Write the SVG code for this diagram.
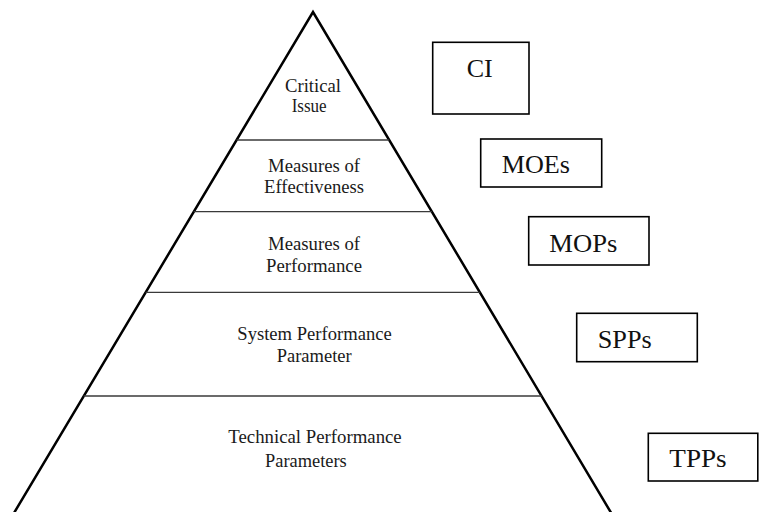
<svg xmlns="http://www.w3.org/2000/svg" width="760" height="512" viewBox="0 0 760 512">
  <style>
    .edge { fill: none; stroke: #000; stroke-width: 2.5; stroke-linejoin: miter; }
    .tier { fill: none; stroke: #3a3a3a; stroke-width: 1.3; }
    .box { fill: #fff; stroke: #000; stroke-width: 1.6; }
    .lbl { font-family: "Liberation Serif", "Times New Roman", serif; font-size: 18.5px; fill: #1a1a1a; }
    .tag { font-family: "Liberation Serif", "Times New Roman", serif; font-size: 26px; fill: #111; }
  </style>

  <rect width="760" height="512" fill="#fff"/>

  <!-- pyramid outline -->
  <g id="pyramid">
    <polyline class="edge" points="12.2,516 313,12 613,516"/>
  </g>

  <!-- tier dividers -->
  <g id="dividers">
    <line class="tier" x1="236.6" y1="140" x2="389.2" y2="140"/>
    <line class="tier" x1="193.7" y1="211.7" x2="431.9" y2="211.7"/>
    <line class="tier" x1="145.6" y1="292.3" x2="479.8" y2="292.3"/>
    <line class="tier" x1="83.7" y1="396" x2="541.6" y2="396"/>
  </g>

  <!-- pyramid tiers -->
  <g id="tier-ci">
    <text class="lbl" x="285" y="92" textLength="56" lengthAdjust="spacingAndGlyphs">Critical</text>
    <text class="lbl" x="291.7" y="111.7" textLength="35" lengthAdjust="spacingAndGlyphs">Issue</text>
  </g>
  <g id="tier-moe">
    <text class="lbl" x="268" y="171.7" textLength="92" lengthAdjust="spacingAndGlyphs">Measures of</text>
    <text class="lbl" x="264" y="193.3" textLength="100" lengthAdjust="spacingAndGlyphs">Effectiveness</text>
  </g>
  <g id="tier-mop">
    <text class="lbl" x="268" y="250" textLength="92" lengthAdjust="spacingAndGlyphs">Measures of</text>
    <text class="lbl" x="266" y="272" textLength="96" lengthAdjust="spacingAndGlyphs">Performance</text>
  </g>
  <g id="tier-spp">
    <text class="lbl" x="237.3" y="340" textLength="154.4" lengthAdjust="spacingAndGlyphs">System Performance</text>
    <text class="lbl" x="276.7" y="361.7" textLength="75" lengthAdjust="spacingAndGlyphs">Parameter</text>
  </g>
  <g id="tier-tpp">
    <text class="lbl" x="228.3" y="443.3" textLength="173.4" lengthAdjust="spacingAndGlyphs">Technical Performance</text>
    <text class="lbl" x="265" y="466.7" textLength="81.7" lengthAdjust="spacingAndGlyphs">Parameters</text>
  </g>

  <!-- abbreviation boxes -->
  <g id="box-ci">
    <rect class="box" x="432.7" y="42.3" width="96.3" height="71.7"/>
    <text class="tag" x="466.7" y="77.3" textLength="26" lengthAdjust="spacingAndGlyphs">CI</text>
  </g>
  <g id="box-moes">
    <rect class="box" x="480.7" y="139" width="121" height="48"/>
    <text class="tag" x="501.7" y="173.3" textLength="68.3" lengthAdjust="spacingAndGlyphs">MOEs</text>
  </g>
  <g id="box-mops">
    <rect class="box" x="528.7" y="216.7" width="120.3" height="48.3"/>
    <text class="tag" x="549.3" y="251.7" textLength="68" lengthAdjust="spacingAndGlyphs">MOPs</text>
  </g>
  <g id="box-spps">
    <rect class="box" x="576.7" y="313.3" width="120.6" height="48.4"/>
    <text class="tag" x="597.7" y="347.7" textLength="54" lengthAdjust="spacingAndGlyphs">SPPs</text>
  </g>
  <g id="box-tpps">
    <rect class="box" x="648.3" y="433.3" width="109.5" height="47.7"/>
    <text class="tag" x="669.3" y="466.7" textLength="57.4" lengthAdjust="spacingAndGlyphs">TPPs</text>
  </g>
</svg>
